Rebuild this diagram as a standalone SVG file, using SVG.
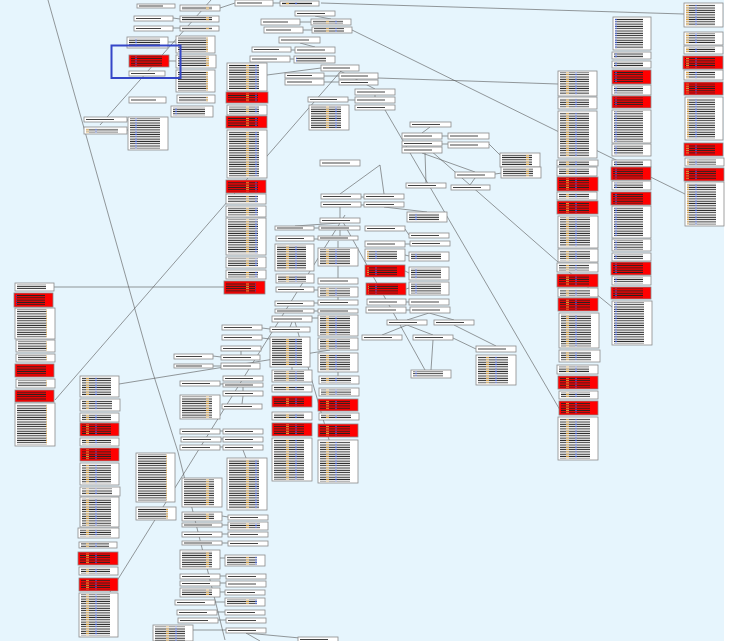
<svg xmlns="http://www.w3.org/2000/svg" width="730" height="641" viewBox="0 0 730 641">
<defs>
<pattern id="tp" width="40" height="2.3" patternUnits="userSpaceOnUse">
<rect x="0" y="0.6" width="40" height="1" fill="#222"/>
<rect x="6" y="0.6" width="3" height="1" fill="#d8a040"/>
<rect x="15" y="0.6" width="2" height="1" fill="#3350c0"/>
</pattern>
<style>
.b{fill:#fff;stroke:#8a8a8a;stroke-width:.8}
.r{fill:#f00;stroke:#8a8a8a;stroke-width:.8}
.t{fill:url(#tp)}
.s{fill:#444}
.c line,.c path{stroke:#555;stroke-width:.6;fill:none}
</style>
</defs>
<rect x="0" y="0" width="730" height="641" fill="#e6f5fd"/>
<rect x="724" y="0" width="6" height="641" fill="#fff"/>
<g class="c" id="connectors">
<line x1="321" y1="3" x2="684" y2="14"/>
<line x1="352" y1="30" x2="685" y2="194"/>
<path d="M48 0 L152 370 L178 452 L225 640"/>
<line x1="55" y1="400" x2="341" y2="71"/>
<line x1="110" y1="592" x2="345" y2="215"/>
<line x1="119" y1="384" x2="330" y2="350"/>
<line x1="54" y1="287" x2="224" y2="287"/>
<line x1="385" y1="110" x2="560" y2="410"/>
<line x1="430" y1="150" x2="558" y2="262"/>
<line x1="558" y1="263" x2="612" y2="307"/>
<line x1="378" y1="78" x2="558" y2="84"/>
<line x1="211" y1="0" x2="100" y2="125"/>
<line x1="343" y1="222" x2="425" y2="370"/>
<line x1="295" y1="322" x2="330" y2="443"/>
<line x1="173" y1="18" x2="180" y2="19"/>
<line x1="173" y1="28" x2="180" y2="28"/>
<line x1="168" y1="42" x2="176" y2="42"/>
<line x1="169" y1="61" x2="176" y2="61"/>
<line x1="220" y1="8" x2="235" y2="3"/>
<line x1="273" y1="3" x2="280" y2="3"/>
<line x1="300" y1="22" x2="311" y2="22"/>
<line x1="303" y1="30" x2="312" y2="30"/>
<line x1="315" y1="16" x2="331" y2="19"/>
<line x1="291" y1="50" x2="295" y2="50"/>
<line x1="290" y1="59" x2="294" y2="59"/>
<line x1="300" y1="43" x2="315" y2="47"/>
<line x1="267" y1="75" x2="321" y2="68"/>
<line x1="324" y1="76" x2="339" y2="76"/>
<line x1="324" y1="82" x2="339" y2="82"/>
<line x1="340" y1="71" x2="375" y2="89"/>
<line x1="348" y1="100" x2="355" y2="100"/>
<line x1="375" y1="95" x2="375" y2="97"/>
<line x1="430" y1="127" x2="422" y2="133"/>
<line x1="442" y1="136" x2="448" y2="136"/>
<line x1="442" y1="144" x2="448" y2="144"/>
<line x1="489" y1="144" x2="500" y2="155"/>
<line x1="422" y1="153" x2="475" y2="172"/>
<line x1="495" y1="174" x2="502" y2="173"/>
<line x1="475" y1="178" x2="470" y2="185"/>
<line x1="425" y1="153" x2="426" y2="183"/>
<line x1="380" y1="165" x2="340" y2="194"/>
<line x1="380" y1="165" x2="384" y2="194"/>
<line x1="361" y1="197" x2="364" y2="197"/>
<line x1="361" y1="205" x2="364" y2="205"/>
<line x1="340" y1="207" x2="340" y2="218"/>
<line x1="384" y1="207" x2="427" y2="212"/>
<line x1="340" y1="223" x2="295" y2="226"/>
<line x1="314" y1="228" x2="319" y2="228"/>
<line x1="340" y1="230" x2="340" y2="236"/>
<line x1="405" y1="229" x2="409" y2="235"/>
<line x1="405" y1="244" x2="410" y2="244"/>
<line x1="314" y1="239" x2="318" y2="239"/>
<line x1="338" y1="241" x2="338" y2="248"/>
<line x1="338" y1="266" x2="338" y2="278"/>
<line x1="405" y1="255" x2="409" y2="256"/>
<line x1="405" y1="271" x2="409" y2="273"/>
<line x1="406" y1="289" x2="409" y2="288"/>
<line x1="314" y1="290" x2="318" y2="290"/>
<line x1="338" y1="297" x2="338" y2="300"/>
<line x1="406" y1="302" x2="409" y2="302"/>
<line x1="406" y1="310" x2="410" y2="310"/>
<line x1="314" y1="303" x2="318" y2="303"/>
<line x1="314" y1="311" x2="318" y2="311"/>
<line x1="429" y1="313" x2="407" y2="320"/>
<line x1="429" y1="313" x2="454" y2="320"/>
<line x1="407" y1="325" x2="382" y2="335"/>
<line x1="407" y1="325" x2="433" y2="335"/>
<line x1="454" y1="325" x2="496" y2="346"/>
<line x1="433" y1="340" x2="431" y2="370"/>
<line x1="453" y1="338" x2="476" y2="349"/>
<line x1="262" y1="328" x2="270" y2="329"/>
<line x1="262" y1="338" x2="270" y2="339"/>
<line x1="292" y1="322" x2="290" y2="327"/>
<line x1="312" y1="318" x2="318" y2="318"/>
<line x1="213" y1="356" x2="221" y2="357"/>
<line x1="213" y1="366" x2="221" y2="366"/>
<line x1="241" y1="351" x2="241" y2="355"/>
<line x1="220" y1="384" x2="223" y2="384"/>
<line x1="243" y1="387" x2="243" y2="391"/>
<line x1="243" y1="396" x2="242" y2="404"/>
<line x1="220" y1="431" x2="223" y2="431"/>
<line x1="221" y1="439" x2="223" y2="439"/>
<line x1="220" y1="447" x2="223" y2="447"/>
<line x1="243" y1="450" x2="246" y2="458"/>
<line x1="292" y1="367" x2="292" y2="370"/>
<line x1="338" y1="372" x2="338" y2="376"/>
<line x1="222" y1="516" x2="228" y2="517"/>
<line x1="222" y1="525" x2="228" y2="525"/>
<line x1="222" y1="534" x2="228" y2="534"/>
<line x1="222" y1="543" x2="228" y2="543"/>
<line x1="220" y1="558" x2="225" y2="558"/>
<line x1="220" y1="576" x2="226" y2="576"/>
<line x1="220" y1="583" x2="226" y2="583"/>
<line x1="220" y1="592" x2="225" y2="592"/>
<line x1="215" y1="602" x2="225" y2="602"/>
<line x1="217" y1="612" x2="225" y2="612"/>
<line x1="218" y1="620" x2="226" y2="620"/>
<line x1="193" y1="630" x2="226" y2="630"/>
<line x1="246" y1="633" x2="300" y2="638"/>
<line x1="246" y1="633" x2="260" y2="641"/>
<line x1="127" y1="120" x2="128" y2="120"/>
<line x1="127" y1="130" x2="128" y2="130"/>
</g>
<g id="n1"><rect class="b" x="137" y="4" width="38" height="4"/><rect class="s" x="139" y="5.5" width="24" height="1"/></g>
<g id="n2"><rect class="b" x="180" y="5" width="40" height="6"/><rect class="t" x="182" y="6" width="30" height="4"/></g>
<g id="n3"><rect class="b" x="134" y="16" width="39" height="5"/><rect class="s" x="136" y="18" width="25" height="1"/></g>
<g id="n4"><rect class="b" x="180" y="16" width="39" height="6"/><rect class="t" x="182" y="17" width="30" height="4"/></g>
<g id="n5"><rect class="b" x="134" y="26" width="39" height="5"/><rect class="s" x="136" y="28" width="25" height="1"/></g>
<g id="n6"><rect class="b" x="180" y="26" width="39" height="5"/><rect class="t" x="182" y="27" width="30" height="3"/></g>
<g id="n7"><rect class="b" x="127" y="37" width="41" height="11"/><rect class="t" x="129" y="38.5" width="31" height="8"/></g>
<g id="n8"><rect class="b" x="176" y="36" width="39" height="17"/><rect class="t" x="178" y="37.5" width="30" height="14"/></g>
<g id="n9"><rect class="r" x="129" y="55" width="40" height="12"/><rect class="t" x="131" y="56.5" width="31" height="9"/></g>
<g id="n10"><rect class="b" x="176" y="55" width="40" height="13"/><rect class="t" x="178" y="56.5" width="31" height="10"/></g>
<g id="n11"><rect class="b" x="129" y="71" width="36" height="5"/><rect class="s" x="131" y="73" width="24" height="1"/></g>
<g id="n12"><rect class="b" x="176" y="70" width="39" height="22"/><rect class="t" x="178" y="71.5" width="30" height="19"/></g>
<g id="n13"><rect class="b" x="177" y="95" width="38" height="8"/><rect class="t" x="179" y="96.5" width="29" height="5"/></g>
<g id="n14"><rect class="b" x="129" y="97" width="37" height="6"/><rect class="s" x="131" y="99.5" width="25" height="1"/></g>
<g id="n15"><rect class="b" x="171" y="106" width="42" height="11"/><rect class="t" x="173" y="107.5" width="32" height="8"/></g>
<g id="n16"><rect class="b" x="84" y="117" width="43" height="5"/><rect class="s" x="86" y="119" width="28" height="1"/></g>
<g id="n17"><rect class="b" x="84" y="127" width="43" height="7"/><rect class="t" x="86" y="128.5" width="32" height="4"/></g>
<g id="n18"><rect class="b" x="128" y="117" width="40" height="33"/><rect class="t" x="130" y="118.5" width="30" height="30"/></g>
<g id="n19"><rect class="b" x="235" y="0" width="38" height="6"/><rect class="s" x="237" y="2.5" width="25" height="1"/></g>
<g id="n20"><rect class="b" x="280" y="1" width="39" height="5"/><rect class="t" x="282" y="2" width="30" height="3"/></g>
<g id="n21"><rect class="b" x="295" y="11" width="40" height="5"/><rect class="s" x="297" y="13" width="28" height="1"/></g>
<g id="n22"><rect class="b" x="261" y="19" width="39" height="6"/><rect class="s" x="263" y="21.5" width="25" height="1"/></g>
<g id="n23"><rect class="b" x="311" y="19" width="40" height="6"/><rect class="t" x="313" y="20" width="30" height="4"/></g>
<g id="n24"><rect class="b" x="264" y="27" width="39" height="6"/><rect class="s" x="266" y="29.5" width="25" height="1"/></g>
<g id="n25"><rect class="b" x="312" y="27" width="40" height="6"/><rect class="t" x="314" y="28" width="30" height="4"/></g>
<g id="n26"><rect class="b" x="279" y="37" width="41" height="6"/><rect class="s" x="281" y="39.5" width="28" height="1"/></g>
<g id="n27"><rect class="b" x="252" y="47" width="39" height="5"/><rect class="s" x="254" y="49" width="25" height="1"/></g>
<g id="n28"><rect class="b" x="295" y="47" width="40" height="6"/><rect class="s" x="297" y="49.5" width="28" height="1"/></g>
<g id="n29"><rect class="b" x="250" y="56" width="40" height="6"/><rect class="s" x="252" y="58.5" width="25" height="1"/></g>
<g id="n30"><rect class="b" x="294" y="56" width="41" height="7"/><rect class="t" x="296" y="57" width="30" height="5"/></g>
<g id="n31"><rect class="b" x="321" y="65" width="38" height="6"/><rect class="s" x="323" y="67.5" width="27" height="1"/></g>
<g id="n32"><rect class="b" x="285" y="73" width="39" height="5"/><rect class="s" x="287" y="75" width="25" height="1"/></g>
<g id="n33"><rect class="b" x="285" y="79" width="39" height="6"/><rect class="s" x="287" y="81.5" width="25" height="1"/></g>
<g id="n34"><rect class="b" x="339" y="73" width="39" height="6"/><rect class="s" x="341" y="75.5" width="27" height="1"/></g>
<g id="n35"><rect class="b" x="339" y="80" width="39" height="5"/><rect class="s" x="341" y="82" width="27" height="1"/></g>
<g id="n36"><rect class="b" x="355" y="89" width="40" height="6"/><rect class="s" x="357" y="91.5" width="28" height="1"/></g>
<g id="n37"><rect class="b" x="308" y="97" width="40" height="5"/><rect class="s" x="310" y="99" width="27" height="1"/></g>
<g id="n38"><rect class="b" x="355" y="97" width="40" height="6"/><rect class="s" x="357" y="99.5" width="28" height="1"/></g>
<g id="n39"><rect class="b" x="309" y="105" width="40" height="25"/><rect class="t" x="311" y="106.5" width="30" height="22"/></g>
<g id="n40"><rect class="b" x="355" y="105" width="40" height="5"/><rect class="s" x="357" y="107" width="28" height="1"/></g>
<g id="n41"><rect class="b" x="227" y="63" width="40" height="28"/><rect class="t" x="229" y="64.5" width="30" height="25"/></g>
<g id="n42"><rect class="r" x="226" y="92" width="42" height="11"/><rect class="t" x="228" y="93.5" width="30" height="8"/></g>
<g id="n43"><rect class="b" x="227" y="105" width="40" height="10"/><rect class="t" x="229" y="106.5" width="30" height="7"/></g>
<g id="n44"><rect class="r" x="226" y="116" width="41" height="12"/><rect class="t" x="228" y="117.5" width="30" height="9"/></g>
<g id="n45"><rect class="b" x="227" y="130" width="40" height="48"/><rect class="t" x="229" y="131.5" width="30" height="45"/></g>
<g id="n46"><rect class="r" x="226" y="180" width="40" height="13"/><rect class="t" x="228" y="181.5" width="30" height="10"/></g>
<g id="n47"><rect class="b" x="226" y="194" width="40" height="10"/><rect class="t" x="228" y="195.5" width="30" height="7"/></g>
<g id="n48"><rect class="b" x="226" y="206" width="40" height="11"/><rect class="t" x="228" y="207.5" width="30" height="8"/></g>
<g id="n49"><rect class="b" x="226" y="218" width="40" height="37"/><rect class="t" x="228" y="219.5" width="30" height="34"/></g>
<g id="n50"><rect class="b" x="226" y="257" width="40" height="11"/><rect class="t" x="228" y="258.5" width="30" height="8"/></g>
<g id="n51"><rect class="b" x="226" y="270" width="40" height="9"/><rect class="t" x="228" y="271.5" width="30" height="6"/></g>
<g id="n52"><rect class="r" x="224" y="281" width="41" height="13"/><rect class="t" x="226" y="282.5" width="30" height="10"/></g>
<g id="n53"><rect class="b" x="410" y="122" width="41" height="5"/><rect class="s" x="412" y="124" width="28" height="1"/></g>
<g id="n54"><rect class="b" x="402" y="133" width="40" height="6"/><rect class="s" x="404" y="135.5" width="28" height="1"/></g>
<g id="n55"><rect class="b" x="448" y="133" width="41" height="6"/><rect class="s" x="450" y="135.5" width="28" height="1"/></g>
<g id="n56"><rect class="b" x="402" y="141" width="40" height="5"/><rect class="s" x="404" y="143" width="28" height="1"/></g>
<g id="n57"><rect class="b" x="448" y="142" width="41" height="6"/><rect class="s" x="450" y="144.5" width="28" height="1"/></g>
<g id="n58"><rect class="b" x="402" y="147" width="40" height="6"/><rect class="s" x="404" y="149.5" width="28" height="1"/></g>
<g id="n59"><rect class="b" x="500" y="153" width="40" height="14"/><rect class="t" x="502" y="154.5" width="30" height="11"/></g>
<g id="n60"><rect class="b" x="455" y="172" width="40" height="6"/><rect class="s" x="457" y="174.5" width="28" height="1"/></g>
<g id="n61"><rect class="b" x="501" y="167" width="40" height="11"/><rect class="t" x="503" y="168.5" width="30" height="8"/></g>
<g id="n62"><rect class="b" x="406" y="183" width="40" height="5"/><rect class="s" x="408" y="185" width="28" height="1"/></g>
<g id="n63"><rect class="b" x="451" y="185" width="39" height="5"/><rect class="s" x="453" y="187" width="28" height="1"/></g>
<g id="n64"><rect class="b" x="320" y="160" width="40" height="6"/><rect class="s" x="322" y="162.5" width="28" height="1"/></g>
<g id="n65"><rect class="b" x="321" y="194" width="40" height="5"/><rect class="s" x="323" y="196" width="28" height="1"/></g>
<g id="n66"><rect class="b" x="364" y="194" width="40" height="5"/><rect class="s" x="366" y="196" width="28" height="1"/></g>
<g id="n67"><rect class="b" x="321" y="202" width="40" height="5"/><rect class="s" x="323" y="204" width="28" height="1"/></g>
<g id="n68"><rect class="b" x="364" y="202" width="40" height="5"/><rect class="s" x="366" y="204" width="28" height="1"/></g>
<g id="n69"><rect class="b" x="407" y="212" width="40" height="10"/><rect class="t" x="409" y="213.5" width="30" height="7"/></g>
<g id="n70"><rect class="b" x="320" y="218" width="40" height="5"/><rect class="s" x="322" y="220" width="28" height="1"/></g>
<g id="n71"><rect class="b" x="275" y="226" width="39" height="4"/><rect class="s" x="277" y="227.5" width="26" height="1"/></g>
<g id="n72"><rect class="b" x="319" y="226" width="41" height="4"/><rect class="s" x="321" y="227.5" width="28" height="1"/></g>
<g id="n73"><rect class="b" x="365" y="226" width="40" height="5"/><rect class="s" x="367" y="228" width="28" height="1"/></g>
<g id="n74"><rect class="b" x="409" y="233" width="40" height="5"/><rect class="s" x="411" y="235" width="28" height="1"/></g>
<g id="n75"><rect class="b" x="276" y="236" width="38" height="5"/><rect class="s" x="278" y="238" width="26" height="1"/></g>
<g id="n76"><rect class="b" x="318" y="236" width="40" height="4"/><rect class="s" x="320" y="237.5" width="28" height="1"/></g>
<g id="n77"><rect class="b" x="365" y="241" width="40" height="6"/><rect class="s" x="367" y="243.5" width="28" height="1"/></g>
<g id="n78"><rect class="b" x="410" y="241" width="40" height="5"/><rect class="s" x="412" y="243" width="28" height="1"/></g>
<g id="n79"><rect class="b" x="275" y="244" width="39" height="27"/><rect class="t" x="277" y="245.5" width="29" height="24"/></g>
<g id="n80"><rect class="b" x="318" y="248" width="40" height="18"/><rect class="t" x="320" y="249.5" width="30" height="15"/></g>
<g id="n81"><rect class="b" x="365" y="249" width="40" height="12"/><rect class="t" x="367" y="250.5" width="30" height="9"/></g>
<g id="n82"><rect class="b" x="409" y="252" width="40" height="9"/><rect class="t" x="411" y="253.5" width="30" height="6"/></g>
<g id="n83"><rect class="r" x="365" y="265" width="40" height="12"/><rect class="t" x="367" y="266.5" width="30" height="9"/></g>
<g id="n84"><rect class="b" x="409" y="267" width="40" height="13"/><rect class="t" x="411" y="268.5" width="30" height="10"/></g>
<g id="n85"><rect class="b" x="276" y="274" width="38" height="9"/><rect class="t" x="278" y="275.5" width="28" height="6"/></g>
<g id="n86"><rect class="b" x="318" y="278" width="40" height="6"/><rect class="s" x="320" y="280.5" width="28" height="1"/></g>
<g id="n87"><rect class="r" x="366" y="283" width="40" height="12"/><rect class="t" x="368" y="284.5" width="30" height="9"/></g>
<g id="n88"><rect class="b" x="409" y="282" width="40" height="13"/><rect class="t" x="411" y="283.5" width="30" height="10"/></g>
<g id="n89"><rect class="b" x="276" y="287" width="38" height="5"/><rect class="s" x="278" y="289" width="26" height="1"/></g>
<g id="n90"><rect class="b" x="318" y="287" width="40" height="10"/><rect class="t" x="320" y="288.5" width="30" height="7"/></g>
<g id="n91"><rect class="b" x="367" y="299" width="39" height="6"/><rect class="s" x="369" y="301.5" width="28" height="1"/></g>
<g id="n92"><rect class="b" x="409" y="299" width="40" height="6"/><rect class="s" x="411" y="301.5" width="28" height="1"/></g>
<g id="n93"><rect class="b" x="275" y="301" width="39" height="5"/><rect class="s" x="277" y="303" width="26" height="1"/></g>
<g id="n94"><rect class="b" x="318" y="300" width="40" height="5"/><rect class="s" x="320" y="302" width="28" height="1"/></g>
<g id="n95"><rect class="b" x="366" y="307" width="40" height="6"/><rect class="s" x="368" y="309.5" width="28" height="1"/></g>
<g id="n96"><rect class="b" x="410" y="307" width="40" height="6"/><rect class="s" x="412" y="309.5" width="28" height="1"/></g>
<g id="n97"><rect class="b" x="275" y="309" width="39" height="4"/><rect class="s" x="277" y="310.5" width="26" height="1"/></g>
<g id="n98"><rect class="b" x="318" y="309" width="40" height="4"/><rect class="s" x="320" y="310.5" width="28" height="1"/></g>
<g id="n99"><rect class="b" x="272" y="316" width="40" height="6"/><rect class="s" x="274" y="318.5" width="28" height="1"/></g>
<g id="n100"><rect class="b" x="318" y="315" width="40" height="21"/><rect class="t" x="320" y="316.5" width="30" height="18"/></g>
<g id="n101"><rect class="b" x="387" y="320" width="40" height="5"/><rect class="s" x="389" y="322" width="28" height="1"/></g>
<g id="n102"><rect class="b" x="434" y="320" width="40" height="5"/><rect class="s" x="436" y="322" width="28" height="1"/></g>
<g id="n103"><rect class="b" x="362" y="335" width="40" height="5"/><rect class="s" x="364" y="337" width="28" height="1"/></g>
<g id="n104"><rect class="b" x="413" y="335" width="40" height="5"/><rect class="s" x="415" y="337" width="28" height="1"/></g>
<g id="n105"><rect class="b" x="476" y="346" width="40" height="6"/><rect class="s" x="478" y="348.5" width="28" height="1"/></g>
<g id="n106"><rect class="b" x="476" y="355" width="40" height="30"/><rect class="t" x="478" y="356.5" width="30" height="27"/></g>
<g id="n107"><rect class="b" x="411" y="370" width="40" height="8"/><rect class="t" x="413" y="371.5" width="30" height="5"/></g>
<g id="n108"><rect class="b" x="222" y="325" width="40" height="5"/><rect class="s" x="224" y="327" width="28" height="1"/></g>
<g id="n109"><rect class="b" x="270" y="327" width="40" height="5"/><rect class="s" x="272" y="329" width="28" height="1"/></g>
<g id="n110"><rect class="b" x="222" y="335" width="40" height="5"/><rect class="s" x="224" y="337" width="28" height="1"/></g>
<g id="n111"><rect class="b" x="270" y="337" width="40" height="30"/><rect class="t" x="272" y="338.5" width="30" height="27"/></g>
<g id="n112"><rect class="b" x="318" y="338" width="40" height="12"/><rect class="t" x="320" y="339.5" width="30" height="9"/></g>
<g id="n113"><rect class="b" x="221" y="346" width="40" height="5"/><rect class="s" x="223" y="348" width="28" height="1"/></g>
<g id="n114"><rect class="b" x="174" y="354" width="39" height="5"/><rect class="s" x="176" y="356" width="26" height="1"/></g>
<g id="n115"><rect class="b" x="221" y="355" width="39" height="5"/><rect class="s" x="223" y="357" width="28" height="1"/></g>
<g id="n116"><rect class="b" x="174" y="364" width="39" height="4"/><rect class="s" x="176" y="365.5" width="26" height="1"/></g>
<g id="n117"><rect class="b" x="221" y="363" width="39" height="6"/><rect class="s" x="223" y="365.5" width="28" height="1"/></g>
<g id="n118"><rect class="b" x="318" y="353" width="40" height="19"/><rect class="t" x="320" y="354.5" width="30" height="16"/></g>
<g id="n119"><rect class="b" x="272" y="370" width="40" height="12"/><rect class="t" x="274" y="371.5" width="30" height="9"/></g>
<g id="n120"><rect class="b" x="319" y="376" width="40" height="8"/><rect class="t" x="321" y="377.5" width="30" height="5"/></g>
<g id="n121"><rect class="b" x="180" y="381" width="40" height="5"/><rect class="s" x="182" y="383" width="28" height="1"/></g>
<g id="n122"><rect class="b" x="223" y="376" width="40" height="5"/><rect class="s" x="225" y="378" width="28" height="1"/></g>
<g id="n123"><rect class="b" x="223" y="383" width="40" height="4"/><rect class="s" x="225" y="384.5" width="28" height="1"/></g>
<g id="n124"><rect class="b" x="180" y="395" width="40" height="24"/><rect class="t" x="182" y="396.5" width="30" height="21"/></g>
<g id="n125"><rect class="b" x="223" y="391" width="40" height="5"/><rect class="s" x="225" y="393" width="28" height="1"/></g>
<g id="n126"><rect class="b" x="222" y="404" width="40" height="5"/><rect class="s" x="224" y="406" width="28" height="1"/></g>
<g id="n127"><rect class="b" x="272" y="385" width="40" height="7"/><rect class="t" x="274" y="386.5" width="30" height="4"/></g>
<g id="n128"><rect class="r" x="272" y="396" width="40" height="11"/><rect class="t" x="274" y="397.5" width="30" height="8"/></g>
<g id="n129"><rect class="b" x="272" y="412" width="40" height="8"/><rect class="t" x="274" y="413.5" width="30" height="5"/></g>
<g id="n130"><rect class="r" x="272" y="423" width="40" height="13"/><rect class="t" x="274" y="424.5" width="30" height="10"/></g>
<g id="n131"><rect class="b" x="272" y="438" width="40" height="43"/><rect class="t" x="274" y="439.5" width="30" height="40"/></g>
<g id="n132"><rect class="b" x="319" y="388" width="40" height="8"/><rect class="t" x="321" y="389.5" width="30" height="5"/></g>
<g id="n133"><rect class="r" x="318" y="399" width="40" height="12"/><rect class="t" x="320" y="400.5" width="30" height="9"/></g>
<g id="n134"><rect class="b" x="319" y="413" width="40" height="7"/><rect class="t" x="321" y="414.5" width="30" height="4"/></g>
<g id="n135"><rect class="r" x="318" y="424" width="40" height="13"/><rect class="t" x="320" y="425.5" width="30" height="10"/></g>
<g id="n136"><rect class="b" x="318" y="440" width="40" height="43"/><rect class="t" x="320" y="441.5" width="30" height="40"/></g>
<g id="n137"><rect class="b" x="180" y="429" width="40" height="5"/><rect class="s" x="182" y="431" width="28" height="1"/></g>
<g id="n138"><rect class="b" x="181" y="437" width="40" height="5"/><rect class="s" x="183" y="439" width="28" height="1"/></g>
<g id="n139"><rect class="b" x="180" y="445" width="40" height="5"/><rect class="s" x="182" y="447" width="28" height="1"/></g>
<g id="n140"><rect class="b" x="223" y="429" width="40" height="5"/><rect class="s" x="225" y="431" width="28" height="1"/></g>
<g id="n141"><rect class="b" x="223" y="437" width="40" height="5"/><rect class="s" x="225" y="439" width="28" height="1"/></g>
<g id="n142"><rect class="b" x="223" y="445" width="40" height="5"/><rect class="s" x="225" y="447" width="28" height="1"/></g>
<g id="n143"><rect class="b" x="227" y="458" width="40" height="52"/><rect class="t" x="229" y="459.5" width="30" height="49"/></g>
<g id="n144"><rect class="b" x="182" y="478" width="40" height="29"/><rect class="t" x="184" y="479.5" width="30" height="26"/></g>
<g id="n145"><rect class="b" x="136" y="453" width="39" height="49"/><rect class="t" x="138" y="454.5" width="29" height="46"/></g>
<g id="n146"><rect class="b" x="136" y="507" width="40" height="13"/><rect class="t" x="138" y="508.5" width="30" height="10"/></g>
<g id="n147"><rect class="b" x="182" y="512" width="40" height="9"/><rect class="t" x="184" y="513.5" width="30" height="6"/></g>
<g id="n148"><rect class="b" x="228" y="515" width="40" height="5"/><rect class="s" x="230" y="517" width="28" height="1"/></g>
<g id="n149"><rect class="b" x="182" y="523" width="40" height="4"/><rect class="s" x="184" y="524.5" width="28" height="1"/></g>
<g id="n150"><rect class="b" x="228" y="522" width="40" height="8"/><rect class="t" x="230" y="523.5" width="30" height="5"/></g>
<g id="n151"><rect class="b" x="182" y="532" width="40" height="5"/><rect class="s" x="184" y="534" width="28" height="1"/></g>
<g id="n152"><rect class="b" x="228" y="532" width="40" height="5"/><rect class="s" x="230" y="534" width="28" height="1"/></g>
<g id="n153"><rect class="b" x="182" y="541" width="40" height="4"/><rect class="s" x="184" y="542.5" width="28" height="1"/></g>
<g id="n154"><rect class="b" x="228" y="541" width="40" height="5"/><rect class="s" x="230" y="543" width="28" height="1"/></g>
<g id="n155"><rect class="b" x="180" y="550" width="40" height="19"/><rect class="t" x="182" y="551.5" width="30" height="16"/></g>
<g id="n156"><rect class="b" x="225" y="555" width="40" height="11"/><rect class="t" x="227" y="556.5" width="30" height="8"/></g>
<g id="n157"><rect class="b" x="180" y="574" width="40" height="5"/><rect class="s" x="182" y="576" width="28" height="1"/></g>
<g id="n158"><rect class="b" x="226" y="574" width="40" height="5"/><rect class="s" x="228" y="576" width="28" height="1"/></g>
<g id="n159"><rect class="b" x="180" y="581" width="40" height="5"/><rect class="s" x="182" y="583" width="28" height="1"/></g>
<g id="n160"><rect class="b" x="226" y="581" width="40" height="6"/><rect class="s" x="228" y="583.5" width="28" height="1"/></g>
<g id="n161"><rect class="b" x="180" y="588" width="40" height="9"/><rect class="t" x="182" y="589.5" width="30" height="6"/></g>
<g id="n162"><rect class="b" x="225" y="590" width="40" height="5"/><rect class="s" x="227" y="592" width="28" height="1"/></g>
<g id="n163"><rect class="b" x="175" y="600" width="40" height="5"/><rect class="s" x="177" y="602" width="28" height="1"/></g>
<g id="n164"><rect class="b" x="225" y="598" width="40" height="8"/><rect class="t" x="227" y="599.5" width="30" height="5"/></g>
<g id="n165"><rect class="b" x="177" y="610" width="40" height="5"/><rect class="s" x="179" y="612" width="28" height="1"/></g>
<g id="n166"><rect class="b" x="225" y="610" width="40" height="5"/><rect class="s" x="227" y="612" width="28" height="1"/></g>
<g id="n167"><rect class="b" x="178" y="618" width="40" height="5"/><rect class="s" x="180" y="620" width="28" height="1"/></g>
<g id="n168"><rect class="b" x="226" y="618" width="40" height="5"/><rect class="s" x="228" y="620" width="28" height="1"/></g>
<g id="n169"><rect class="b" x="153" y="625" width="40" height="16"/><rect class="t" x="155" y="626.5" width="30" height="14"/></g>
<g id="n170"><rect class="b" x="226" y="628" width="40" height="5"/><rect class="s" x="228" y="630" width="28" height="1"/></g>
<g id="n171"><rect class="b" x="298" y="637" width="40" height="5"/><rect class="s" x="300" y="639" width="28" height="1"/></g>
<g id="n172"><rect class="b" x="80" y="376" width="39" height="21"/><rect class="t" x="82" y="377.5" width="29" height="18"/></g>
<g id="n173"><rect class="b" x="80" y="399" width="40" height="12"/><rect class="t" x="82" y="400.5" width="30" height="9"/></g>
<g id="n174"><rect class="b" x="80" y="413" width="39" height="9"/><rect class="t" x="82" y="414.5" width="29" height="6"/></g>
<g id="n175"><rect class="r" x="80" y="423" width="39" height="13"/><rect class="t" x="82" y="424.5" width="29" height="10"/></g>
<g id="n176"><rect class="b" x="80" y="438" width="39" height="8"/><rect class="t" x="82" y="439.5" width="29" height="5"/></g>
<g id="n177"><rect class="r" x="80" y="448" width="39" height="13"/><rect class="t" x="82" y="449.5" width="29" height="10"/></g>
<g id="n178"><rect class="b" x="80" y="463" width="39" height="22"/><rect class="t" x="82" y="464.5" width="29" height="19"/></g>
<g id="n179"><rect class="b" x="80" y="487" width="40" height="9"/><rect class="t" x="82" y="488.5" width="30" height="6"/></g>
<g id="n180"><rect class="b" x="80" y="497" width="39" height="30"/><rect class="t" x="82" y="498.5" width="29" height="27"/></g>
<g id="n181"><rect class="b" x="78" y="528" width="41" height="10"/><rect class="t" x="80" y="529.5" width="31" height="7"/></g>
<g id="n182"><rect class="b" x="79" y="542" width="38" height="6"/><rect class="t" x="81" y="543" width="28" height="4"/></g>
<g id="n183"><rect class="r" x="78" y="552" width="40" height="13"/><rect class="t" x="80" y="553.5" width="30" height="10"/></g>
<g id="n184"><rect class="b" x="79" y="567" width="39" height="8"/><rect class="t" x="81" y="568.5" width="29" height="5"/></g>
<g id="n185"><rect class="r" x="79" y="578" width="39" height="13"/><rect class="t" x="81" y="579.5" width="29" height="10"/></g>
<g id="n186"><rect class="b" x="79" y="593" width="39" height="44"/><rect class="t" x="81" y="594.5" width="29" height="41"/></g>
<g id="n187"><rect class="b" x="15" y="283" width="39" height="8"/><rect class="t" x="17" y="284.5" width="29" height="5"/></g>
<g id="n188"><rect class="r" x="14" y="293" width="39" height="14"/><rect class="t" x="16" y="294.5" width="29" height="11"/></g>
<g id="n189"><rect class="b" x="15" y="308" width="40" height="31"/><rect class="t" x="17" y="309.5" width="30" height="28"/></g>
<g id="n190"><rect class="b" x="16" y="340" width="39" height="12"/><rect class="t" x="18" y="341.5" width="29" height="9"/></g>
<g id="n191"><rect class="b" x="16" y="354" width="39" height="8"/><rect class="t" x="18" y="355.5" width="29" height="5"/></g>
<g id="n192"><rect class="r" x="15" y="364" width="39" height="13"/><rect class="t" x="17" y="365.5" width="29" height="10"/></g>
<g id="n193"><rect class="b" x="16" y="379" width="39" height="9"/><rect class="t" x="18" y="380.5" width="29" height="6"/></g>
<g id="n194"><rect class="r" x="15" y="390" width="39" height="12"/><rect class="t" x="17" y="391.5" width="29" height="9"/></g>
<g id="n195"><rect class="b" x="15" y="403" width="40" height="43"/><rect class="t" x="17" y="404.5" width="30" height="40"/></g>
<g id="n196"><rect class="b" x="558" y="71" width="39" height="25"/><rect class="t" x="560" y="72.5" width="29" height="22"/></g>
<g id="n197"><rect class="b" x="558" y="97" width="39" height="12"/><rect class="t" x="560" y="98.5" width="29" height="9"/></g>
<g id="n198"><rect class="b" x="558" y="111" width="39" height="47"/><rect class="t" x="560" y="112.5" width="29" height="44"/></g>
<g id="n199"><rect class="b" x="557" y="160" width="41" height="6"/><rect class="t" x="559" y="161" width="30" height="4"/></g>
<g id="n200"><rect class="b" x="557" y="167" width="40" height="9"/><rect class="t" x="559" y="168.5" width="30" height="6"/></g>
<g id="n201"><rect class="r" x="557" y="177" width="41" height="14"/><rect class="t" x="559" y="178.5" width="30" height="11"/></g>
<g id="n202"><rect class="b" x="557" y="192" width="40" height="8"/><rect class="t" x="559" y="193.5" width="30" height="5"/></g>
<g id="n203"><rect class="r" x="557" y="201" width="41" height="13"/><rect class="t" x="559" y="202.5" width="30" height="10"/></g>
<g id="n204"><rect class="b" x="558" y="216" width="40" height="32"/><rect class="t" x="560" y="217.5" width="30" height="29"/></g>
<g id="n205"><rect class="b" x="558" y="249" width="40" height="13"/><rect class="t" x="560" y="250.5" width="30" height="10"/></g>
<g id="n206"><rect class="b" x="557" y="263" width="41" height="9"/><rect class="t" x="559" y="264.5" width="30" height="6"/></g>
<g id="n207"><rect class="r" x="557" y="274" width="41" height="13"/><rect class="t" x="559" y="275.5" width="30" height="10"/></g>
<g id="n208"><rect class="b" x="558" y="288" width="40" height="9"/><rect class="t" x="560" y="289.5" width="30" height="6"/></g>
<g id="n209"><rect class="r" x="558" y="298" width="40" height="13"/><rect class="t" x="560" y="299.5" width="30" height="10"/></g>
<g id="n210"><rect class="b" x="559" y="313" width="40" height="35"/><rect class="t" x="561" y="314.5" width="30" height="32"/></g>
<g id="n211"><rect class="b" x="559" y="350" width="41" height="12"/><rect class="t" x="561" y="351.5" width="30" height="9"/></g>
<g id="n212"><rect class="b" x="557" y="365" width="41" height="9"/><rect class="t" x="559" y="366.5" width="30" height="6"/></g>
<g id="n213"><rect class="r" x="558" y="376" width="40" height="13"/><rect class="t" x="560" y="377.5" width="30" height="10"/></g>
<g id="n214"><rect class="b" x="559" y="391" width="39" height="8"/><rect class="t" x="561" y="392.5" width="29" height="5"/></g>
<g id="n215"><rect class="r" x="559" y="401" width="39" height="14"/><rect class="t" x="561" y="402.5" width="29" height="11"/></g>
<g id="n216"><rect class="b" x="558" y="417" width="40" height="43"/><rect class="t" x="560" y="418.5" width="30" height="40"/></g>
<g id="n217"><rect class="b" x="613" y="17" width="38" height="33"/><rect class="t" x="615" y="18.5" width="28" height="30"/></g>
<g id="n218"><rect class="b" x="612" y="52" width="39" height="7"/><rect class="t" x="614" y="53" width="29" height="5"/></g>
<g id="n219"><rect class="b" x="612" y="61" width="39" height="7"/><rect class="t" x="614" y="62" width="29" height="5"/></g>
<g id="n220"><rect class="r" x="612" y="70" width="39" height="14"/><rect class="t" x="614" y="71.5" width="29" height="11"/></g>
<g id="n221"><rect class="b" x="612" y="85" width="39" height="10"/><rect class="t" x="614" y="86.5" width="29" height="7"/></g>
<g id="n222"><rect class="r" x="612" y="96" width="39" height="12"/><rect class="t" x="614" y="97.5" width="29" height="9"/></g>
<g id="n223"><rect class="b" x="612" y="110" width="39" height="33"/><rect class="t" x="614" y="111.5" width="29" height="30"/></g>
<g id="n224"><rect class="b" x="612" y="144" width="39" height="12"/><rect class="t" x="614" y="145.5" width="29" height="9"/></g>
<g id="n225"><rect class="b" x="612" y="160" width="39" height="7"/><rect class="t" x="614" y="161" width="29" height="5"/></g>
<g id="n226"><rect class="r" x="611" y="167" width="40" height="13"/><rect class="t" x="613" y="168.5" width="30" height="10"/></g>
<g id="n227"><rect class="b" x="612" y="181" width="39" height="9"/><rect class="t" x="614" y="182.5" width="29" height="6"/></g>
<g id="n228"><rect class="r" x="611" y="192" width="40" height="13"/><rect class="t" x="613" y="193.5" width="30" height="10"/></g>
<g id="n229"><rect class="b" x="612" y="206" width="39" height="32"/><rect class="t" x="614" y="207.5" width="29" height="29"/></g>
<g id="n230"><rect class="b" x="612" y="239" width="39" height="12"/><rect class="t" x="614" y="240.5" width="29" height="9"/></g>
<g id="n231"><rect class="b" x="612" y="253" width="39" height="8"/><rect class="t" x="614" y="254.5" width="29" height="5"/></g>
<g id="n232"><rect class="r" x="611" y="262" width="40" height="13"/><rect class="t" x="613" y="263.5" width="30" height="10"/></g>
<g id="n233"><rect class="b" x="612" y="276" width="39" height="9"/><rect class="t" x="614" y="277.5" width="29" height="6"/></g>
<g id="n234"><rect class="r" x="611" y="287" width="40" height="12"/><rect class="t" x="613" y="288.5" width="30" height="9"/></g>
<g id="n235"><rect class="b" x="612" y="301" width="40" height="44"/><rect class="t" x="614" y="302.5" width="30" height="41"/></g>
<g id="n236"><rect class="b" x="684" y="3" width="39" height="24"/><rect class="t" x="686" y="4.5" width="29" height="21"/></g>
<g id="n237"><rect class="b" x="684" y="32" width="39" height="13"/><rect class="t" x="686" y="33.5" width="29" height="10"/></g>
<g id="n238"><rect class="b" x="684" y="46" width="39" height="8"/><rect class="t" x="686" y="47.5" width="29" height="5"/></g>
<g id="n239"><rect class="r" x="683" y="56" width="40" height="13"/><rect class="t" x="685" y="57.5" width="30" height="10"/></g>
<g id="n240"><rect class="b" x="684" y="70" width="39" height="10"/><rect class="t" x="686" y="71.5" width="29" height="7"/></g>
<g id="n241"><rect class="r" x="684" y="82" width="39" height="13"/><rect class="t" x="686" y="83.5" width="29" height="10"/></g>
<g id="n242"><rect class="b" x="685" y="97" width="38" height="43"/><rect class="t" x="687" y="98.5" width="28" height="40"/></g>
<g id="n243"><rect class="r" x="684" y="143" width="39" height="13"/><rect class="t" x="686" y="144.5" width="29" height="10"/></g>
<g id="n244"><rect class="b" x="685" y="158" width="39" height="8"/><rect class="t" x="687" y="159.5" width="29" height="5"/></g>
<g id="n245"><rect class="r" x="684" y="168" width="40" height="13"/><rect class="t" x="686" y="169.5" width="30" height="10"/></g>
<g id="n246"><rect class="b" x="685" y="182" width="39" height="44"/><rect class="t" x="687" y="183.5" width="29" height="41"/></g>
<rect id="highlight" x="111.5" y="45.5" width="69" height="32.5" fill="none" stroke="#3446c8" stroke-width="2"/>
</svg>
